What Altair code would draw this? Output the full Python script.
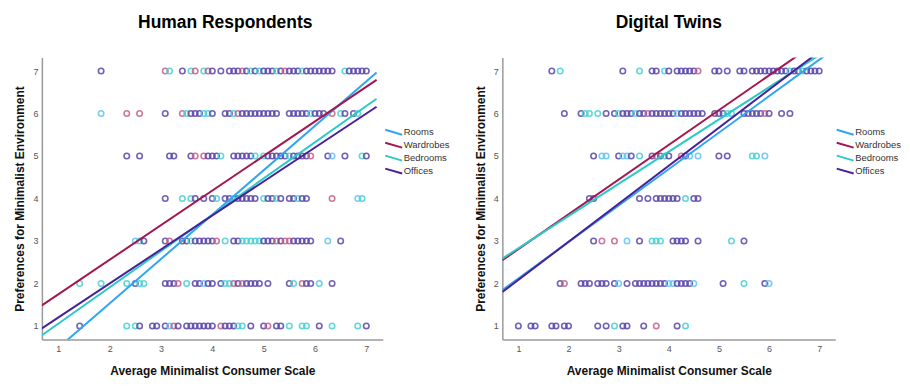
import altair as alt
import pandas as pd

FONT = "Liberation Sans, Arial, sans-serif"
GROUPS = ["Rooms", "Wardrobes", "Bedrooms", "Offices"]
CODE = {"R": "Rooms", "W": "Wardrobes", "B": "Bedrooms", "O": "Offices"}
LINE_COLORS = ["#2EA6F2", "#A3174F", "#2CC9C9", "#4A2098"]
POINT_COLORS = ["#62C4F4", "#C4628A", "#48D2D2", "#5A46AA"]
N_ITEMS = 12          # scale sum scores -> average score
TICKS = [1, 2, 3, 4, 5, 6, 7]

# ---------------- Human Respondents: sum scores per rating, group codes
HR_7_SUM = [22, 37, 38, 41, 43, 44, 46, 47, 48, 50, 52, 53, 54, 55, 56, 57, 58, 59, 60, 61, 62, 63, 64, 65,
            66, 67, 68, 69, 70, 71, 72, 73, 74, 75, 76, 79, 80, 81, 82, 83, 84]
HR_7_GRP = "OWBOBWBWOO" + "OOOWOBOBOOOBOWOOOBOOOOOOO" + "BOOOOO"
HR_6_SUM = [22, 28, 31, 37, 41, 42, 43, 44, 45, 46, 47, 48, 51, 52, 53, 54, 55, 56, 57, 58, 59, 60, 61, 62,
            63, 66, 67, 68, 69, 70, 71, 72, 73, 74, 76, 78, 79, 81, 82]
HR_6_GRP = "RWWOWBOOOBBO" + "OOBWOOOOOOOOO" + "OOOOOBOOO" + "WBOOB"
HR_5_SUM = [28, 31, 38, 39, 43, 44, 46, 47, 48, 49, 50, 53, 54, 55, 56, 57, 58, 60, 61, 62, 63, 64, 65, 66,
            67, 68, 69, 70, 71, 75, 76, 79, 83, 84]
HR_5_GRP = "OOOOOWWOOOB" + "OOOOOB" + "BOOOOOB" + "OOOOW" + "OROBO"
HR_4_SUM = [37, 41, 43, 44, 46, 48, 49, 51, 52, 53, 54, 55, 56, 57, 58, 60, 61, 62, 63, 64, 66, 67, 68, 69,
            70, 76, 82, 83]
HR_4_GRP = "OBBOOOBOOBOOOOOBOOBOOOBOOWRB"
HR_3_SUM = [30, 31, 32, 37, 38, 41, 42, 43, 44, 45, 46, 47, 48, 49, 51, 53, 54, 55, 56, 57, 58, 59, 60, 61,
            62, 63, 64, 65, 66, 67, 68, 69, 70, 71, 75, 78]
HR_3_GRP = "RBOOWOOBOOOOOWB" + "OOBBBBBOOOWOWWOOOOO" + "RO"
HR_2_SUM = [17, 22, 28, 30, 31, 32, 37, 38, 39, 40, 42, 44, 45, 46, 47, 48, 50, 51, 52, 53, 54, 55, 56, 57,
            58, 59, 61, 66, 67, 69, 70, 71, 73, 76]
HR_2_GRP = "BBBOBBOOOWBOOROOOBBWOWOOOOOOBWOOBO"
HR_1_SUM = [17, 28, 30, 31, 34, 35, 37, 38, 39, 40, 42, 43, 44, 45, 46, 47, 48, 50, 51, 52, 53, 54, 55, 57,
            60, 61, 63, 64, 66, 69, 70, 73, 76, 82, 84]
HR_1_GRP = "OBBOOOORWOOOOOOOOWOOOBBOOWOOBBBOBBO"

# ---------------- Digital Twins
DT_7_SUM = [20, 22, 37, 41, 44, 45, 47, 48, 50, 51, 52, 53, 54, 55, 59, 60, 62, 65, 66, 68, 69, 70, 71, 72,
            73, 74, 75, 76, 77, 78, 79, 80, 81, 82, 83, 84]
DT_7_GRP = "OBOBOOBOOOOOOWOOOOO" + "OOOOOOOOOBOOBOOOO"
DT_6_SUM = [23, 27, 28, 29, 31, 33, 35, 36, 37, 38, 39, 40, 41, 42, 43, 44, 45, 46, 47, 48, 49, 50, 51, 52,
            53, 54, 55, 56, 59, 60, 61, 62, 63, 66, 67, 68, 69, 70, 71, 72, 75, 77]
DT_6_GRP = "OOBBBOOBOOOBOOWOOOOOOBOOOOOO" + "OOOBB" + "OOOOOWO" + "OO"
DT_5_SUM = [30, 32, 33, 36, 37, 38, 39, 41, 44, 45, 46, 47, 48, 51, 52, 53, 55, 60, 62, 68, 69, 71]
DT_5_GRP = "ORRORROBOWOBOWORROOBBR"
DT_4_SUM = [29, 30, 41, 43, 45, 46, 47, 48, 49, 50, 52, 54, 55]
DT_4_GRP = "OOOOOOOOOOBOO"
DT_3_SUM = [30, 32, 35, 38, 41, 44, 45, 46, 49, 50, 51, 52, 55, 63, 66]
DT_3_GRP = "OWWROBBBOOOOOBO"
DT_2_SUM = [22, 23, 27, 28, 29, 31, 32, 33, 35, 36, 38, 40, 41, 42, 43, 44, 45, 46, 47, 48, 49, 50, 51, 52,
            53, 54, 61, 66, 71, 72]
DT_2_GRP = "OWOOOOOOORO" + "OOOOOOOO" + "RROOOOR" + "OBOR"
DT_1_SUM = [12, 15, 16, 20, 21, 23, 24, 31, 33, 35, 37, 38, 42, 45, 50, 52]
DT_1_GRP = "OOOOOOOOOBOOOWOB"

# ---------------- linear fit lines (intercept, slope) per group
HR_INTERCEPT = [-0.56, 0.93, 0.20, 0.40]
HR_SLOPE = [1.045, 0.814, 0.854, 0.80]
DT_INTERCEPT = [1.26, 1.99, 2.07, 1.19]
DT_SLOPE = [0.858, 0.818, 0.758, 0.895]
FIT_X = [0.68, 7.2]
DOMAIN = [0.68, 7.32]

PCOLOR = dict(zip(GROUPS, POINT_COLORS))


def points_frame(rows):
    recs = []
    for rating, sums, codes in rows:
        for s, c in zip(sums, codes):
            g = CODE[c]
            recs.append({"score": s / N_ITEMS, "rating": rating, "group": g, "pcolor": PCOLOR[g]})
    return pd.DataFrame(recs)


def fit_frame(intercepts, slopes):
    recs = []
    for g, a, b in zip(GROUPS, intercepts, slopes):
        for xv in FIT_X:
            recs.append({"score": xv, "rating": a + b * xv, "group": g})
    return pd.DataFrame(recs)


hr_pts = points_frame([(7, HR_7_SUM, HR_7_GRP), (6, HR_6_SUM, HR_6_GRP), (5, HR_5_SUM, HR_5_GRP),
                       (4, HR_4_SUM, HR_4_GRP), (3, HR_3_SUM, HR_3_GRP), (2, HR_2_SUM, HR_2_GRP),
                       (1, HR_1_SUM, HR_1_GRP)])
dt_pts = points_frame([(7, DT_7_SUM, DT_7_GRP), (6, DT_6_SUM, DT_6_GRP), (5, DT_5_SUM, DT_5_GRP),
                       (4, DT_4_SUM, DT_4_GRP), (3, DT_3_SUM, DT_3_GRP), (2, DT_2_SUM, DT_2_GRP),
                       (1, DT_1_SUM, DT_1_GRP)])
hr_fit = fit_frame(HR_INTERCEPT, HR_SLOPE)
dt_fit = fit_frame(DT_INTERCEPT, DT_SLOPE)


def panel(title, pts, fit, width, title_dx, legend_x):
    xs = alt.Scale(domain=DOMAIN, nice=False, zero=False)
    ys = alt.Scale(domain=DOMAIN, nice=False, zero=False)
    x_axis = alt.Axis(values=TICKS, format="d", grid=False, ticks=False, domainColor="#9a9a9a",
                      domainWidth=1.5, labelFont=FONT, labelFontSize=9, labelColor="#555555",
                      labelPadding=5, title="Average Minimalist Consumer Scale", titleFont=FONT,
                      titleFontSize=12, titleFontWeight="bold", titleColor="#111111", titlePadding=12)
    y_axis = alt.Axis(values=TICKS, format="d", grid=False, ticks=False, domainColor="#9a9a9a",
                      domainWidth=1.5, labelFont=FONT, labelFontSize=9, labelColor="#555555",
                      labelPadding=4, title="Preferences for Minimalist Environment", titleFont=FONT,
                      titleFontSize=12, titleFontWeight="bold", titleColor="#111111", titlePadding=6)
    points = alt.Chart(pts).mark_point(filled=False, size=30, strokeWidth=1.6, opacity=0.85).encode(
        x=alt.X("score:Q", scale=xs, axis=x_axis),
        y=alt.Y("rating:Q", scale=ys, axis=y_axis),
        stroke=alt.Stroke("pcolor:N", scale=None),
    )
    lines = alt.Chart(fit).mark_line(strokeWidth=2, clip=True).encode(
        x=alt.X("score:Q", scale=xs),
        y=alt.Y("rating:Q", scale=ys),
        color=alt.Color("group:N", sort=GROUPS,
                        scale=alt.Scale(domain=GROUPS, range=LINE_COLORS),
                        legend=alt.Legend(title=None, orient="none", legendX=legend_x, legendY=69,
                                          symbolType="M-1.7,-0.5L1.7,0.5", symbolSize=100,
                                          symbolStrokeWidth=2, labelFont=FONT, labelFontSize=9.5,
                                          labelColor="#333333", labelOffset=4, rowPadding=-3,
                                          padding=0)),
    )
    return alt.layer(points, lines).properties(
        width=width, height=283,
        title=alt.TitleParams(text=title, font=FONT, fontSize=17.5, fontWeight="bold", color="#000000",
                              anchor="middle", offset=26, dx=title_dx),
    )


left = panel("Human Respondents", hr_pts, hr_fit, 342, 13, 347)
right = panel("Digital Twins", dt_pts, dt_fit, 334, 0, 338)

chart = alt.hconcat(left, right, spacing=23).resolve_scale(
    color="independent"
).configure(padding={"left": 5, "top": 5, "right": 0, "bottom": 5}).configure_view(stroke=None)

chart.save("out.html", embed_options={"renderer": "svg", "actions": False})
